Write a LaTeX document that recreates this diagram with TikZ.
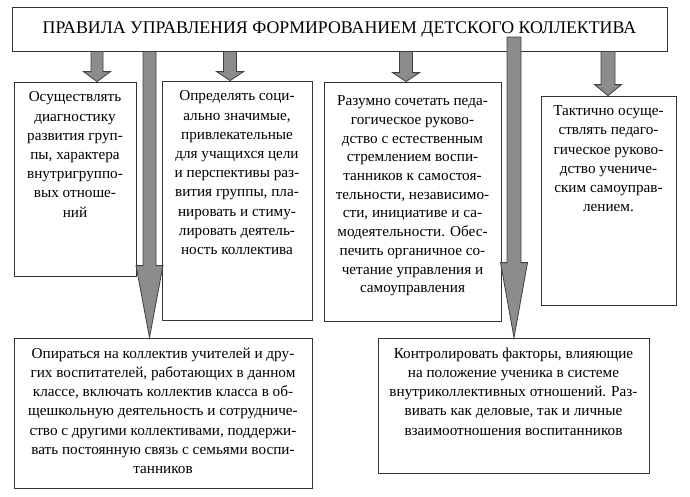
\documentclass[tikz,border=0pt]{standalone}
\usepackage{fontspec}
\setmainfont{Liberation Serif}
\newfontfamily\boxfont{Liberation Serif}
\usetikzlibrary{calc}

% x, from, to, head length, shaft half-width
\newcommand{\fatarrow}[5]{%
  \coordinate (top) at (#1,0 |- #2);
  \coordinate (tip) at (#1,0 |- #3);
  \filldraw[arrow body] ($(top)+(-#5,0)$) -- ($(top)+(#5,0)$) -- ($(tip)+(#5,-#4)$)
    -- ($(tip)+(13.5,-#4)$) -- (tip) -- ($(tip)+(-13.5,-#4)$) -- ($(tip)+(-#5,-#4)$) -- cycle;
}

\begin{document}
\begin{tikzpicture}[
	x=1pt, y=-1pt,
	box/.style={
		draw=black!80,
		line width=0.8pt,
		fill=white,
		rectangle,
		inner sep=0pt
	},
	txt/.style={
		anchor=north,
		yshift=-8pt,
		align=center,
		inner sep=2pt,
		font=\boxfont\fontsize{15.2}{19.2}\selectfont
	},
	arrow body/.style={
		draw=black!75,
		line width=0.8pt,
		fill=black!45
	}
]
\useasboundingbox (0,0) rectangle (690,496);

\node[box, minimum width=655, minimum height=44, font=\boxfont\fontsize{17.8}{20}\selectfont]
	(title) at (339.5,29) {ПРАВИЛА УПРАВЛЕНИЯ ФОРМИРОВАНИЕМ ДЕТСКОГО КОЛЛЕКТИВА};

\node[box, minimum width=122, minimum height=194] (diag)     at (75,179)     {};
\node[box, minimum width=150, minimum height=239] (goals)    at (237,200.5)  {};
\node[box, minimum width=177, minimum height=239] (combine)  at (412.5,201.5) {};
\node[box, minimum width=135, minimum height=209] (tact)     at (608.5,200.5) {};
\node[box, minimum width=298, minimum height=150] (teachers) at (163,413)    {};
\node[box, minimum width=271, minimum height=135] (factors)  at (513.5,405.5) {};

\node[txt] at (diag.north) {Осуществлять\\диагностику\\развития груп-\\пы, характера\\внутригруппо-\\вых отноше-\\ний};
\node[txt] at (goals.north) {Определять соци-\\ально значимые,\\привлекательные\\для учащихся цели\\и перспективы раз-\\вития группы, пла-\\нировать и стиму-\\лировать деятель-\\ность коллектива};
\node[txt, yshift=-4pt, font=\boxfont\fontsize{15.2}{18.7}\selectfont] at (combine.north) {Разумно сочетать педа-\\гогическое руково-\\дство с естественным\\стремлением воспи-\\танников к самостоя-\\тельности, независимо-\\сти, инициативе и са-\\модеятельности. Обес-\\печить органичное со-\\четание управления и\\самоуправления};
\node[txt] at (tact.north) {Тактично осуще-\\ствлять педаго-\\гическое руково-\\дство учениче-\\ским самоуправ-\\лением.};
\node[txt] at (teachers.north) {Опираться на коллектив учителей и дру-\\гих воспитателей, работающих в данном\\классе, включать коллектив класса в об-\\щешкольную деятельность и сотрудниче-\\ство с другими коллективами, поддержи-\\вать постоянную связь с семьями воспи-\\танников};
\node[txt] at (factors.north) {Контролировать факторы, влияющие\\на положение ученика в системе\\внутриколлективных отношений. Раз-\\вивать как деловые, так и личные\\взаимоотношения воспитанников};

% arrows from the title
\fatarrow{97}{title.south}{diag.north}{10}{6}
\fatarrow{230}{title.south}{goals.north}{9}{6.5}
\fatarrow{406}{title.south}{combine.north}{9}{6.5}
\fatarrow{608}{title.south}{tact.north}{11}{7}
\fatarrow{149.5}{title.south}{teachers.north}{72}{6.5}
\fatarrow{514}{0,37}{factors.north}{75}{7}

\end{tikzpicture}
\end{document}
